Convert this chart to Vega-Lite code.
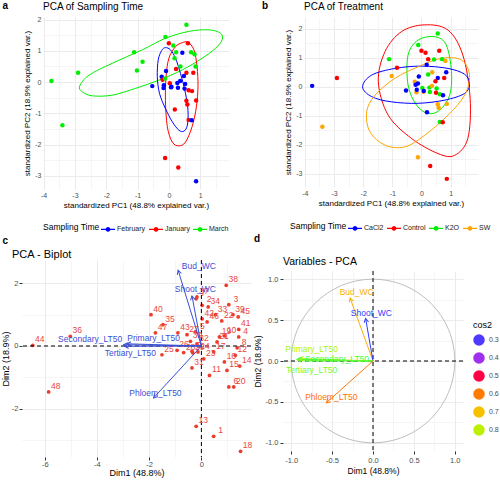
{
 "$schema": "https://vega.github.io/schema/vega-lite/v6.json",
 "background": "white",
 "padding": {"left": 1, "top": 1, "right": 0, "bottom": 0},
 "config": {
  "font": "Liberation Sans",
  "view": {"stroke": null},
  "title": {"fontWeight": "normal", "anchor": "start", "color": "#000000", "fontSize": 10, "font": "Liberation Sans"},
  "axis": {"domain": false, "ticks": false, "gridColor": "#EBEBEB", "labelColor": "#4D4D4D", "labelFontSize": 7, "titleFontSize": 8, "titleFontWeight": "normal", "titleColor": "#000000", "labelPadding": 2, "titlePadding": 3, "labelOverlap": false, "labelFlush": false},
  "legend": {"labelFontSize": 7, "labelColor": "#1A1A1A", "titleFontSize": 8.5, "titleFontWeight": "normal", "titleColor": "#000000"}
 },
 "datasets": {
  "scores": [
   {"pc1":-3.75,"pc2":0.03,"time":"March","trt":"CaCl2"},
   {"pc1":-2.9,"pc2":0.3,"time":"March","trt":"Control"},
   {"pc1":-3.4,"pc2":-1.38,"time":"March","trt":"SW"},
   {"pc1":-1.11,"pc2":0.95,"time":"March","trt":"K2O"},
   {"pc1":-0.84,"pc2":0.65,"time":"March","trt":"Control"},
   {"pc1":-1.02,"pc2":0.37,"time":"March","trt":"SW"},
   {"pc1":-0.53,"pc2":-0.13,"time":"February","trt":"CaCl2"},
   {"pc1":0.56,"pc2":1.83,"time":"March","trt":"K2O"},
   {"pc1":-0.11,"pc2":1.44,"time":"March","trt":"K2O"},
   {"pc1":0.0,"pc2":1.24,"time":"January","trt":"Control"},
   {"pc1":0.14,"pc2":1.17,"time":"March","trt":"Control"},
   {"pc1":0.61,"pc2":1.24,"time":"January","trt":"Control"},
   {"pc1":0.23,"pc2":0.95,"time":"March","trt":"Control"},
   {"pc1":0.43,"pc2":0.94,"time":"February","trt":"K2O"},
   {"pc1":0.71,"pc2":0.95,"time":"March","trt":"K2O"},
   {"pc1":0.82,"pc2":0.89,"time":"March","trt":"SW"},
   {"pc1":0.18,"pc2":0.76,"time":"March","trt":"CaCl2"},
   {"pc1":0.37,"pc2":0.5,"time":"March","trt":"SW"},
   {"pc1":0.85,"pc2":0.5,"time":"March","trt":"CaCl2"},
   {"pc1":0.23,"pc2":0.42,"time":"January","trt":"K2O"},
   {"pc1":-0.09,"pc2":0.35,"time":"February","trt":"CaCl2"},
   {"pc1":0.56,"pc2":0.3,"time":"January","trt":"CaCl2"},
   {"pc1":0.78,"pc2":0.3,"time":"January","trt":"Control"},
   {"pc1":0.48,"pc2":0.19,"time":"February","trt":"Control"},
   {"pc1":-0.23,"pc2":0.17,"time":"February","trt":"SW"},
   {"pc1":-0.2,"pc2":0.07,"time":"January","trt":"CaCl2"},
   {"pc1":-0.12,"pc2":0.11,"time":"March","trt":"CaCl2"},
   {"pc1":-0.17,"pc2":-0.19,"time":"February","trt":"SW"},
   {"pc1":-0.16,"pc2":-0.1,"time":"February","trt":"CaCl2"},
   {"pc1":0.03,"pc2":-0.04,"time":"January","trt":"K2O"},
   {"pc1":0.07,"pc2":-0.17,"time":"February","trt":"SW"},
   {"pc1":0.27,"pc2":-0.03,"time":"February","trt":"K2O"},
   {"pc1":0.36,"pc2":0.03,"time":"February","trt":"SW"},
   {"pc1":0.29,"pc2":-0.18,"time":"February","trt":"K2O"},
   {"pc1":0.52,"pc2":-0.06,"time":"February","trt":"K2O"},
   {"pc1":0.5,"pc2":-0.21,"time":"February","trt":"Control"},
   {"pc1":0.63,"pc2":-0.26,"time":"January","trt":"K2O"},
   {"pc1":0.74,"pc2":-0.29,"time":"January","trt":"CaCl2"},
   {"pc1":0.56,"pc2":-0.6,"time":"January","trt":"SW"},
   {"pc1":0.59,"pc2":-0.72,"time":"January","trt":"SW"},
   {"pc1":0.87,"pc2":-0.59,"time":"January","trt":"SW"},
   {"pc1":0.19,"pc2":-0.88,"time":"January","trt":"CaCl2"},
   {"pc1":0.63,"pc2":-1.21,"time":"January","trt":"K2O"},
   {"pc1":0.73,"pc2":-1.22,"time":"February","trt":"Control"},
   {"pc1":-0.12,"pc2":-2.43,"time":"January","trt":"SW"},
   {"pc1":0.3,"pc2":-2.73,"time":"January","trt":"Control"},
   {"pc1":0.87,"pc2":-3.17,"time":"February","trt":"Control"},
   {"pc1":0.08,"pc2":-0.15,"time":"February","trt":"CaCl2"}
  ],
  "ellA": [
   {"time":"March","ord":0,"pc1":-2.85,"pc2":-0.13},
   {"time":"March","ord":1,"pc1":-2.55,"pc2":0.22},
   {"time":"March","ord":2,"pc1":-1.81,"pc2":0.6},
   {"time":"March","ord":3,"pc1":-0.85,"pc2":1.03},
   {"time":"March","ord":4,"pc1":-0.11,"pc2":1.4},
   {"time":"March","ord":5,"pc1":0.64,"pc2":1.62},
   {"time":"March","ord":6,"pc1":1.28,"pc2":1.67},
   {"time":"March","ord":7,"pc1":1.65,"pc2":1.56},
   {"time":"March","ord":8,"pc1":1.7,"pc2":1.35},
   {"time":"March","ord":9,"pc1":1.49,"pc2":1.08},
   {"time":"March","ord":10,"pc1":1.06,"pc2":0.76},
   {"time":"March","ord":11,"pc1":0.43,"pc2":0.39},
   {"time":"March","ord":12,"pc1":-0.32,"pc2":0.06},
   {"time":"March","ord":13,"pc1":-1.06,"pc2":-0.2},
   {"time":"March","ord":14,"pc1":-1.81,"pc2":-0.42},
   {"time":"March","ord":15,"pc1":-2.45,"pc2":-0.44},
   {"time":"March","ord":16,"pc1":-2.77,"pc2":-0.31},
   {"time":"January","ord":0,"pc1":0.61,"pc2":1.27},
   {"time":"January","ord":1,"pc1":0.8,"pc2":1.03},
   {"time":"January","ord":2,"pc1":0.9,"pc2":0.49},
   {"time":"January","ord":3,"pc1":0.93,"pc2":-0.15},
   {"time":"January","ord":4,"pc1":0.88,"pc2":-0.79},
   {"time":"January","ord":5,"pc1":0.74,"pc2":-1.43},
   {"time":"January","ord":6,"pc1":0.53,"pc2":-1.92},
   {"time":"January","ord":7,"pc1":0.32,"pc2":-2.04},
   {"time":"January","ord":8,"pc1":0.11,"pc2":-1.92},
   {"time":"January","ord":9,"pc1":-0.05,"pc2":-1.43},
   {"time":"January","ord":10,"pc1":-0.11,"pc2":-0.58},
   {"time":"January","ord":11,"pc1":-0.09,"pc2":0.17},
   {"time":"January","ord":12,"pc1":0.0,"pc2":0.76},
   {"time":"January","ord":13,"pc1":0.21,"pc2":1.13},
   {"time":"January","ord":14,"pc1":0.43,"pc2":1.26},
   {"time":"February","ord":0,"pc1":-0.11,"pc2":1.1},
   {"time":"February","ord":1,"pc1":0.05,"pc2":1.03},
   {"time":"February","ord":2,"pc1":0.21,"pc2":0.76},
   {"time":"February","ord":3,"pc1":0.37,"pc2":0.28},
   {"time":"February","ord":4,"pc1":0.53,"pc2":-0.36},
   {"time":"February","ord":5,"pc1":0.61,"pc2":-0.9},
   {"time":"February","ord":6,"pc1":0.59,"pc2":-1.38},
   {"time":"February","ord":7,"pc1":0.48,"pc2":-1.57},
   {"time":"February","ord":8,"pc1":0.32,"pc2":-1.54},
   {"time":"February","ord":9,"pc1":0.11,"pc2":-1.27},
   {"time":"February","ord":10,"pc1":-0.11,"pc2":-0.85},
   {"time":"February","ord":11,"pc1":-0.3,"pc2":-0.36},
   {"time":"February","ord":12,"pc1":-0.37,"pc2":0.17},
   {"time":"February","ord":13,"pc1":-0.34,"pc2":0.71},
   {"time":"February","ord":14,"pc1":-0.23,"pc2":1.01}
  ],
  "ellB": [
   {"trt":"Control","ord":0,"pc1":-1.48,"pc2":0.17},
   {"trt":"Control","ord":1,"pc1":-1.25,"pc2":1.21},
   {"trt":"Control","ord":2,"pc1":-0.68,"pc2":1.9},
   {"trt":"Control","ord":3,"pc1":0.11,"pc2":2.13},
   {"trt":"Control","ord":4,"pc1":0.91,"pc2":1.95},
   {"trt":"Control","ord":5,"pc1":1.42,"pc2":1.09},
   {"trt":"Control","ord":6,"pc1":1.67,"pc2":-0.4},
   {"trt":"Control","ord":7,"pc1":1.59,"pc2":-1.78},
   {"trt":"Control","ord":8,"pc1":1.14,"pc2":-2.36},
   {"trt":"Control","ord":9,"pc1":0.57,"pc2":-2.3},
   {"trt":"Control","ord":10,"pc1":-0.34,"pc2":-1.78},
   {"trt":"Control","ord":11,"pc1":-1.14,"pc2":-0.98},
   {"trt":"K2O","ord":0,"pc1":-0.46,"pc2":1.09},
   {"trt":"K2O","ord":1,"pc1":-0.11,"pc2":1.61},
   {"trt":"K2O","ord":2,"pc1":0.46,"pc2":1.72},
   {"trt":"K2O","ord":3,"pc1":0.85,"pc2":1.44},
   {"trt":"K2O","ord":4,"pc1":1.03,"pc2":0.52},
   {"trt":"K2O","ord":5,"pc1":0.97,"pc2":-0.29},
   {"trt":"K2O","ord":6,"pc1":0.63,"pc2":-0.8},
   {"trt":"K2O","ord":7,"pc1":0.23,"pc2":-0.92},
   {"trt":"K2O","ord":8,"pc1":-0.17,"pc2":-0.63},
   {"trt":"K2O","ord":9,"pc1":-0.46,"pc2":0.06},
   {"trt":"CaCl2","ord":0,"pc1":-2.02,"pc2":0.0},
   {"trt":"CaCl2","ord":1,"pc1":-1.71,"pc2":0.4},
   {"trt":"CaCl2","ord":2,"pc1":-0.91,"pc2":0.63},
   {"trt":"CaCl2","ord":3,"pc1":0.0,"pc2":0.71},
   {"trt":"CaCl2","ord":4,"pc1":0.91,"pc2":0.63},
   {"trt":"CaCl2","ord":5,"pc1":1.48,"pc2":0.43},
   {"trt":"CaCl2","ord":6,"pc1":1.65,"pc2":0.11},
   {"trt":"CaCl2","ord":7,"pc1":1.48,"pc2":-0.23},
   {"trt":"CaCl2","ord":8,"pc1":0.8,"pc2":-0.46},
   {"trt":"CaCl2","ord":9,"pc1":-0.11,"pc2":-0.57},
   {"trt":"CaCl2","ord":10,"pc1":-1.03,"pc2":-0.52},
   {"trt":"CaCl2","ord":11,"pc1":-1.71,"pc2":-0.34},
   {"trt":"SW","ord":0,"pc1":-1.88,"pc2":-0.86},
   {"trt":"SW","ord":1,"pc1":-1.59,"pc2":-0.29},
   {"trt":"SW","ord":2,"pc1":-0.91,"pc2":0.29},
   {"trt":"SW","ord":3,"pc1":-0.11,"pc2":0.69},
   {"trt":"SW","ord":4,"pc1":0.68,"pc2":0.98},
   {"trt":"SW","ord":5,"pc1":1.37,"pc2":0.92},
   {"trt":"SW","ord":6,"pc1":1.65,"pc2":0.4},
   {"trt":"SW","ord":7,"pc1":1.48,"pc2":-0.29},
   {"trt":"SW","ord":8,"pc1":0.91,"pc2":-0.98},
   {"trt":"SW","ord":9,"pc1":0.11,"pc2":-1.67},
   {"trt":"SW","ord":10,"pc1":-0.57,"pc2":-2.07},
   {"trt":"SW","ord":11,"pc1":-1.25,"pc2":-2.01},
   {"trt":"SW","ord":12,"pc1":-1.77,"pc2":-1.55}
  ],
  "ind": [
   {"id":"1","dim1":0.47,"dim2":-2.89},{"id":"2","dim1":0.03,"dim2":1.3},{"id":"3","dim1":1.05,"dim2":1.32},
   {"id":"4","dim1":1.43,"dim2":0.29},{"id":"5","dim1":-0.23,"dim2":0.45},{"id":"6","dim1":1.05,"dim2":-1.31},
   {"id":"7","dim1":-0.2,"dim2":1.51},{"id":"8","dim1":1.37,"dim2":-0.06},{"id":"9","dim1":-0.36,"dim2":-0.17},
   {"id":"10","dim1":0.89,"dim2":0.32},{"id":"11","dim1":0.31,"dim2":-0.94},{"id":"12","dim1":1.3,"dim2":-0.3},
   {"id":"13","dim1":-0.2,"dim2":-2.57},{"id":"14","dim1":1.47,"dim2":-0.64},{"id":"15","dim1":0.98,"dim2":-0.78},
   {"id":"16","dim1":0.88,"dim2":-0.51},{"id":"17","dim1":0.47,"dim2":-0.19},{"id":"18","dim1":1.5,"dim2":-3.37},
   {"id":"19","dim1":0.69,"dim2":0.29},{"id":"20","dim1":1.24,"dim2":-1.31},{"id":"21","dim1":0.6,"dim2":0.13},
   {"id":"22","dim1":0.78,"dim2":0.8},{"id":"23","dim1":0.09,"dim2":-0.41},{"id":"24","dim1":-0.13,"dim2":-0.19},
   {"id":"25","dim1":-1.51,"dim2":-0.28},{"id":"26","dim1":-0.93,"dim2":-0.14},{"id":"27","dim1":-0.55,"dim2":0.36},
   {"id":"28","dim1":-0.68,"dim2":-0.21},{"id":"29","dim1":-0.33,"dim2":-0.22},{"id":"30","dim1":-0.42,"dim2":0.15},
   {"id":"31","dim1":-0.36,"dim2":-0.7},{"id":"32","dim1":-0.17,"dim2":0.07},{"id":"33","dim1":0.54,"dim2":1.0},
   {"id":"34","dim1":0.26,"dim2":1.25},{"id":"35","dim1":-1.47,"dim2":0.68},{"id":"36","dim1":-5.02,"dim2":0.31},
   {"id":"37","dim1":-0.17,"dim2":1.57},{"id":"38","dim1":0.95,"dim2":1.94},{"id":"39","dim1":1.21,"dim2":1.0},
   {"id":"40","dim1":-1.93,"dim2":1.0},{"id":"41","dim1":1.43,"dim2":0.53},{"id":"42","dim1":0.03,"dim2":0.87},
   {"id":"43","dim1":-0.9,"dim2":0.42},{"id":"44","dim1":-6.46,"dim2":0.02},{"id":"45","dim1":1.41,"dim2":0.93},
   {"id":"46","dim1":0.22,"dim2":0.77},{"id":"47","dim1":-1.76,"dim2":0.42},{"id":"48","dim1":-5.85,"dim2":-1.47}
  ],
  "vars": [
   {"name":"Bud_WC","dim1":-0.89,"dim2":2.42,"label_dim1":-0.1,"label_dim2":2.55,"v1":-0.28,"v2":0.77,"label_v1":-0.2,"label_v2":0.84,"cos2":0.67},
   {"name":"Shoot_WC","dim1":-0.36,"dim2":1.6,"label_dim1":-0.23,"label_dim2":1.83,"v1":-0.09,"v2":0.52,"label_v1":-0.02,"label_v2":0.59,"cos2":0.28},
   {"name":"Primary_LT50","dim1":-2.85,"dim2":0.07,"label_dim1":-1.83,"label_dim2":0.27,"v1":-0.9,"v2":0.03,"label_v1":-0.75,"label_v2":0.15,"cos2":0.81},
   {"name":"Secondary_LT50","dim1":-2.98,"dim2":0.04,"label_dim1":-4.26,"label_dim2":0.21,"v1":-0.93,"v2":0.02,"label_v1":-0.44,"label_v2":0.02,"cos2":0.87},
   {"name":"Tertiary_LT50","dim1":-2.94,"dim2":-0.01,"label_dim1":-2.72,"label_dim2":-0.22,"v1":-0.92,"v2":0.01,"label_v1":-0.75,"label_v2":-0.11,"cos2":0.85},
   {"name":"Phloem_LT50","dim1":-1.83,"dim2":-1.66,"label_dim1":-1.76,"label_dim2":-1.49,"v1":-0.57,"v2":-0.51,"label_v1":-0.51,"label_v2":-0.44,"cos2":0.59}
  ],
  "circle": [
   {"ord":0,"v1":1.0,"v2":0.0},{"ord":1,"v1":0.924,"v2":0.383},{"ord":2,"v1":0.707,"v2":0.707},{"ord":3,"v1":0.383,"v2":0.924},
   {"ord":4,"v1":0.0,"v2":1.0},{"ord":5,"v1":-0.383,"v2":0.924},{"ord":6,"v1":-0.707,"v2":0.707},{"ord":7,"v1":-0.924,"v2":0.383},
   {"ord":8,"v1":-1.0,"v2":0.0},{"ord":9,"v1":-0.924,"v2":-0.383},{"ord":10,"v1":-0.707,"v2":-0.707},{"ord":11,"v1":-0.383,"v2":-0.924},
   {"ord":12,"v1":0.0,"v2":-1.0},{"ord":13,"v1":0.383,"v2":-0.924},{"ord":14,"v1":0.707,"v2":-0.707},{"ord":15,"v1":0.924,"v2":-0.383}
  ]
 },
 "resolve": {"scale": {"color": "independent"}, "legend": {"color": "independent"}},
 "spacing": 0,
 "vconcat": [
  {
   "spacing": 0,
   "resolve": {"scale": {"color": "independent"}, "legend": {"color": "independent"}},
   "hconcat": [
    {
     "width": 1, "height": 1,
     "title": {"text": "a", "fontWeight": "bold", "fontSize": 10, "anchor": "start", "frame": "group", "offset": 6, "dx": -19.5},
     "data": {"values": []},
     "mark": "point",
     "encoding": {}
    },
    {
     "width": 186, "height": 172,
     "title": {"text": "PCA of Sampling Time", "frame": "group", "offset": 4},
     "layer": [
      {
       "data": {"name": "ellA"},
       "mark": {"type": "line", "interpolate": "cardinal-closed", "strokeWidth": 1},
       "encoding": {
        "x": {"field": "pc1", "type": "quantitative", "title": "standardized PC1 (48.8% explained var.)",
              "scale": {"domain": [-4.02, 1.92], "nice": false, "zero": false},
              "axis": {"values": [-4,-3.5,-3,-2.5,-2,-1.5,-1,-0.5,0,0.5,1,1.5], "tickCount": 100, "labelExpr": "datum.value % 1 === 0 ? '' + datum.value : ''", "labelOverlap": false,
                       "gridWidth": {"condition": {"test": "datum.value % 1 !== 0", "value": 0.5}, "value": 1}}},
        "y": {"field": "pc2", "type": "quantitative", "title": "standardized PC2 (18.9% explained var.)",
              "scale": {"domain": [-3.42, 2.08], "nice": false, "zero": false},
              "axis": {"values": [-3,-2.5,-2,-1.5,-1,-0.5,0,0.5,1,1.5,2], "tickCount": 100, "labelExpr": "datum.value % 1 === 0 ? '' + datum.value : ''", "labelOverlap": false,
                       "gridWidth": {"condition": {"test": "datum.value % 1 !== 0", "value": 0.5}, "value": 1}}},
        "color": {"field": "time", "type": "nominal",
                  "scale": {"domain": ["February", "January", "March"], "range": ["#0000FF", "#FF0000", "#00EE00"]},
                  "legend": {"orient": "none", "legendX": 0, "legendY": 204, "direction": "horizontal", "title": "Sampling Time", "titleOrient": "left",
                             "symbolType": "M-1,0H1M0.25,0A0.25,0.25,0,1,1,-0.25,0A0.25,0.25,0,1,1,0.25,0M0.12,0A0.12,0.12,0,1,1,-0.12,0A0.12,0.12,0,1,1,0.12,0",
                             "symbolSize": 196, "symbolStrokeWidth": 1.2, "columnPadding": 0, "labelOffset": 1, "titlePadding": 0}},
        "order": {"field": "ord", "type": "quantitative"}
       }
      },
      {
       "data": {"name": "scores"},
       "mark": {"type": "circle", "size": 20, "opacity": 1},
       "encoding": {
        "x": {"field": "pc1", "type": "quantitative", "title": "standardized PC1 (48.8% explained var.)"},
        "y": {"field": "pc2", "type": "quantitative", "title": "standardized PC2 (18.9% explained var.)"},
        "color": {"field": "time", "type": "nominal", "legend": null}
       }
      }
     ]
    },
    {
     "width": 55, "height": 1,
     "title": {"text": "b", "fontWeight": "bold", "fontSize": 10, "anchor": "start", "frame": "group", "offset": 6, "dx": 33},
     "data": {"values": []},
     "mark": "point",
     "encoding": {}
    },
    {
     "width": 174, "height": 170,
     "title": {"text": "PCA of Treatment", "frame": "group", "offset": 5},
     "layer": [
      {
       "data": {"name": "ellB"},
       "mark": {"type": "line", "interpolate": "cardinal-closed", "strokeWidth": 1},
       "encoding": {
        "x": {"field": "pc1", "type": "quantitative", "title": "standardized PC1 (48.8% explained var.)",
              "scale": {"domain": [-4.03, 1.94], "nice": false, "zero": false},
              "axis": {"values": [-4,-3.5,-3,-2.5,-2,-1.5,-1,-0.5,0,0.5,1,1.5], "tickCount": 100, "labelExpr": "datum.value % 1 === 0 ? '' + datum.value : ''", "labelOverlap": false,
                       "gridWidth": {"condition": {"test": "datum.value % 1 !== 0", "value": 0.5}, "value": 1}}},
        "y": {"field": "pc2", "type": "quantitative", "title": "standardized PC2 (18.9% explained var.)",
              "scale": {"domain": [-3.45, 2.4], "nice": false, "zero": false},
              "axis": {"values": [-3,-2.5,-2,-1.5,-1,-0.5,0,0.5,1,1.5,2], "tickCount": 100, "labelExpr": "datum.value % 1 === 0 ? '' + datum.value : ''", "labelOverlap": false,
                       "gridWidth": {"condition": {"test": "datum.value % 1 !== 0", "value": 0.5}, "value": 1}}},
        "color": {"field": "trt", "type": "nominal",
                  "scale": {"domain": ["CaCl2", "Control", "K2O", "SW"], "range": ["#0000FF", "#FF0000", "#00EE00", "#FFA500"]},
                  "legend": {"orient": "none", "legendX": -14, "legendY": 203, "direction": "horizontal", "title": "Sampling Time", "titleOrient": "left",
                             "symbolType": "M-1,0H1M0.25,0A0.25,0.25,0,1,1,-0.25,0A0.25,0.25,0,1,1,0.25,0M0.12,0A0.12,0.12,0,1,1,-0.12,0A0.12,0.12,0,1,1,0.12,0",
                             "symbolSize": 196, "symbolStrokeWidth": 1.2, "columnPadding": 0, "labelOffset": 1, "titlePadding": 0}},
        "order": {"field": "ord", "type": "quantitative"}
       }
      },
      {
       "data": {"name": "scores"},
       "mark": {"type": "circle", "size": 20, "opacity": 1},
       "encoding": {
        "x": {"field": "pc1", "type": "quantitative", "title": "standardized PC1 (48.8% explained var.)"},
        "y": {"field": "pc2", "type": "quantitative", "title": "standardized PC2 (18.9% explained var.)"},
        "color": {"field": "trt", "type": "nominal", "legend": null}
       }
      }
     ]
    }
   ]
  },
  {
   "spacing": 0,
   "resolve": {"scale": {"color": "independent"}, "legend": {"color": "independent"}},
   "hconcat": [
    {
     "spacing": 0,
     "resolve": {"scale": {"color": "independent"}, "legend": {"color": "independent"}},
     "vconcat": [
      {
       "width": 1, "height": 1,
       "title": {"text": "c", "fontWeight": "bold", "fontSize": 10, "anchor": "start", "frame": "group", "offset": 1, "dx": -19.5},
       "data": {"values": []},
       "mark": "point",
       "encoding": {}
      },
      {
       "width": 229, "height": 197,
       "title": {"text": "PCA - Biplot", "frame": "group", "offset": 0, "fontSize": 11, "dx": -10},
       "layer": [
        {
         "data": {"name": "ind"},
         "mark": {"type": "circle", "size": 14, "opacity": 1, "color": "#EE3B2C"},
         "encoding": {
          "x": {"field": "dim1", "type": "quantitative", "title": "Dim1 (48.8%)",
                "scale": {"domain": [-6.87, 1.9], "nice": false, "zero": false},
                "axis": {"values": [-6,-5,-4,-3,-2,-1,0,1], "tickCount": 100, "labelExpr": "datum.value % 2 === 0 ? '' + datum.value : ''", "labelOverlap": false,
                         "ticks": true, "tickSize": 3, "tickColor": "#333333", "labelFontSize": 7.5, "titleFontSize": 9, "labelPadding": 0, "titlePadding": 1,
                         "tickOpacity": {"condition": {"test": "datum.value % 2 !== 0", "value": 0}, "value": 1},
                         "gridWidth": {"condition": {"test": "datum.value % 2 !== 0", "value": 0.5}, "value": 1}}},
          "y": {"field": "dim2", "type": "quantitative", "title": "Dim2 (18.9%)",
                "scale": {"domain": [-3.55, 2.75], "nice": false, "zero": false},
                "axis": {"values": [-3,-2,-1,0,1,2], "tickCount": 100, "labelExpr": "datum.value % 2 === 0 ? '' + datum.value : ''", "labelOverlap": false,
                         "ticks": true, "tickSize": 3, "tickColor": "#333333", "labelFontSize": 7.5, "titleFontSize": 9, "labelPadding": 1, "titlePadding": 1,
                         "tickOpacity": {"condition": {"test": "datum.value % 2 !== 0", "value": 0}, "value": 1},
                         "gridWidth": {"condition": {"test": "datum.value % 2 !== 0", "value": 0.5}, "value": 1}}}
         }
        },
        {
         "data": {"values": [{}]},
         "mark": {"type": "rule", "strokeDash": [4, 3], "color": "#000000", "strokeWidth": 1},
         "encoding": {"y": {"datum": 0, "type": "quantitative", "title": "Dim2 (18.9%)"}}
        },
        {
         "data": {"values": [{}]},
         "mark": {"type": "rule", "strokeDash": [4, 3], "color": "#000000", "strokeWidth": 1},
         "encoding": {"x": {"datum": 0, "type": "quantitative", "title": "Dim1 (48.8%)"}}
        },
        {
         "data": {"name": "ind"},
         "mark": {"type": "text", "color": "#E8463C", "fontSize": 8.5, "dx": 7, "dy": -6},
         "encoding": {
          "x": {"field": "dim1", "type": "quantitative", "title": "Dim1 (48.8%)"},
          "y": {"field": "dim2", "type": "quantitative", "title": "Dim2 (18.9%)"},
          "text": {"field": "id"}
         }
        },
        {
         "data": {"name": "vars"},
         "mark": {"type": "rule", "color": "#3A4FD6", "strokeWidth": 1},
         "encoding": {
          "x": {"field": "dim1", "type": "quantitative", "title": "Dim1 (48.8%)"},
          "y": {"field": "dim2", "type": "quantitative", "title": "Dim2 (18.9%)"},
          "x2": {"datum": 0},
          "y2": {"datum": 0}
         }
        },
        {
         "data": {"name": "vars"},
         "mark": {"type": "point", "shape": "M-0.55,1L0,0L0.55,1", "filled": false, "size": 64, "strokeWidth": 1, "color": "#3A4FD6", "opacity": 1,
                  "angle": {"expr": "atan2(datum.dim1 * 26.1, datum.dim2 * 31.3) * 180 / PI"}},
         "encoding": {
          "x": {"field": "dim1", "type": "quantitative", "title": "Dim1 (48.8%)"},
          "y": {"field": "dim2", "type": "quantitative", "title": "Dim2 (18.9%)"}
         }
        },
        {
         "data": {"name": "vars"},
         "mark": {"type": "text", "color": "#3A4FD6", "fontSize": 8.5},
         "encoding": {
          "x": {"field": "label_dim1", "type": "quantitative", "title": "Dim1 (48.8%)"},
          "y": {"field": "label_dim2", "type": "quantitative", "title": "Dim2 (18.9%)"},
          "text": {"field": "name"}
         }
        }
       ]
      }
     ]
    },
    {
     "spacing": 0,
     "resolve": {"scale": {"color": "independent"}, "legend": {"color": "independent"}},
     "vconcat": [
      {
       "width": 1, "height": 10,
       "title": {"text": "d", "fontWeight": "bold", "fontSize": 10, "anchor": "start", "frame": "group", "offset": 3, "dx": -29},
       "data": {"values": []},
       "mark": "point",
       "encoding": {}
      },
      {
       "width": 180, "height": 180,
       "title": {"text": "Variables - PCA", "frame": "group", "offset": 3, "fontSize": 10.5},
       "layer": [
        {
         "data": {"name": "circle"},
         "mark": {"type": "line", "interpolate": "cardinal-closed", "strokeWidth": 1, "color": "#BEBEBE"},
         "encoding": {
          "x": {"field": "v1", "type": "quantitative", "title": "Dim1 (48.8%)",
                "scale": {"domain": [-1.1, 1.1], "nice": false, "zero": false},
                "axis": {"values": [-1,-0.75,-0.5,-0.25,0,0.25,0.5,0.75,1], "tickCount": 100, "labelOverlap": false,
                         "labelExpr": "abs(datum.value * 2 % 1) > 0.1 ? '' : replace(format(datum.value, '.1f'), '\u2212', '-')",
                         "ticks": true, "tickSize": 3, "tickColor": "#333333", "labelFontSize": 7.5, "titleFontSize": 8.5,
                         "tickOpacity": {"condition": {"test": "abs(datum.value * 2 % 1) > 0.1", "value": 0}, "value": 1},
                         "gridWidth": {"condition": {"test": "abs(datum.value * 2 % 1) > 0.1", "value": 0.5}, "value": 1}}},
          "y": {"field": "v2", "type": "quantitative", "title": "Dim2 (18.9%)",
                "scale": {"domain": [-1.1, 1.1], "nice": false, "zero": false},
                "axis": {"values": [-1,-0.75,-0.5,-0.25,0,0.25,0.5,0.75,1], "tickCount": 100, "labelOverlap": false,
                         "labelExpr": "abs(datum.value * 2 % 1) > 0.1 ? '' : replace(format(datum.value, '.1f'), '\u2212', '-')",
                         "ticks": true, "tickSize": 3, "tickColor": "#333333", "labelFontSize": 7.5, "titleFontSize": 8.5,
                         "tickOpacity": {"condition": {"test": "abs(datum.value * 2 % 1) > 0.1", "value": 0}, "value": 1},
                         "gridWidth": {"condition": {"test": "abs(datum.value * 2 % 1) > 0.1", "value": 0.5}, "value": 1}}},
          "order": {"field": "ord", "type": "quantitative"}
         }
        },
        {
         "data": {"values": [{}]},
         "mark": {"type": "rule", "strokeDash": [4, 3], "color": "#000000", "strokeWidth": 1},
         "encoding": {"y": {"datum": 0, "type": "quantitative", "title": "Dim2 (18.9%)"}}
        },
        {
         "data": {"values": [{}]},
         "mark": {"type": "rule", "strokeDash": [4, 3], "color": "#000000", "strokeWidth": 1},
         "encoding": {"x": {"datum": 0, "type": "quantitative", "title": "Dim1 (48.8%)"}}
        },
        {
         "data": {"name": "vars"},
         "mark": {"type": "rule", "strokeWidth": 1},
         "encoding": {
          "x": {"field": "v1", "type": "quantitative", "title": "Dim1 (48.8%)"},
          "y": {"field": "v2", "type": "quantitative", "title": "Dim2 (18.9%)"},
          "x2": {"datum": 0},
          "y2": {"datum": 0},
          "color": {"field": "cos2", "type": "quantitative",
                    "scale": {"domain": [0.28, 0.4, 0.52, 0.64, 0.76, 0.87], "range": ["#2E3BFF", "#A030F0", "#FF2020", "#FF9A00", "#E6E600", "#3CFF3C"]},
                    "legend": {"type": "gradient", "title": "cos2", "orient": "none", "legendX": 190, "legendY": 50, "direction": "vertical", "gradientLength": 64, "gradientThickness": 11,
                               "tickCount": 6, "format": ".1f", "labelFontSize": 7, "labelColor": "#4D4D4D", "titleFontSize": 9, "titlePadding": 4}}
         }
        },
        {
         "data": {"name": "vars"},
         "mark": {"type": "point", "shape": "M-0.55,1L0,0L0.55,1", "filled": false, "size": 64, "strokeWidth": 1, "opacity": 1,
                  "angle": {"expr": "atan2(datum.v1, datum.v2) * 180 / PI"}},
         "encoding": {
          "x": {"field": "v1", "type": "quantitative", "title": "Dim1 (48.8%)"},
          "y": {"field": "v2", "type": "quantitative", "title": "Dim2 (18.9%)"},
          "color": {"field": "cos2", "type": "quantitative", "legend": null}
         }
        },
        {
         "data": {"name": "vars"},
         "mark": {"type": "text", "fontSize": 8.5},
         "encoding": {
          "x": {"field": "label_v1", "type": "quantitative", "title": "Dim1 (48.8%)"},
          "y": {"field": "label_v2", "type": "quantitative", "title": "Dim2 (18.9%)"},
          "text": {"field": "name"},
          "color": {"field": "cos2", "type": "quantitative", "legend": null}
         }
        }
       ]
      }
     ]
    }
   ]
  }
 ]
}
